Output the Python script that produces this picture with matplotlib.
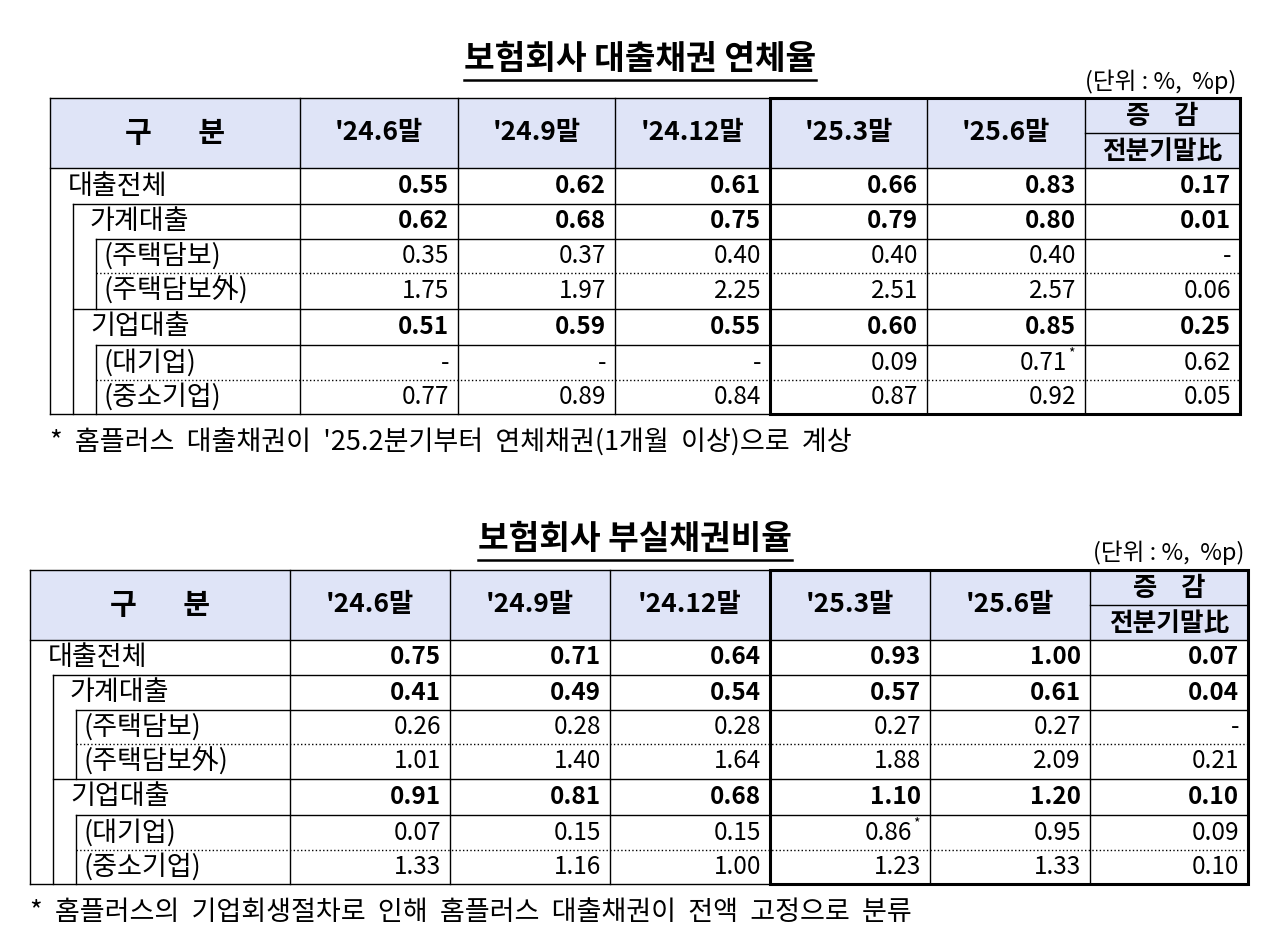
import matplotlib
matplotlib.use("Agg")
import matplotlib.pyplot as plt

plt.rcParams['font.family'] = ['Noto Sans CJK KR', 'DejaVu Sans']

columns = ["'24.6말", "'24.9말", "'24.12말", "'25.3말", "'25.6말"]
row_labels = ["대출전체", "가계대출", "(주택담보)", "(주택담보外)", "기업대출", "(대기업)", "(중소기업)"]
row_level = [0, 1, 2, 2, 1, 2, 2]
bold_rows = [True, True, False, False, True, False, False]

title1 = "보험회사 대출채권 연체율"
t1_values = [
    ["0.55", "0.62", "0.61", "0.66", "0.83", "0.17"],
    ["0.62", "0.68", "0.75", "0.79", "0.80", "0.01"],
    ["0.35", "0.37", "0.40", "0.40", "0.40", "-"],
    ["1.75", "1.97", "2.25", "2.51", "2.57", "0.06"],
    ["0.51", "0.59", "0.55", "0.60", "0.85", "0.25"],
    ["-", "-", "-", "0.09", "0.71*", "0.62"],
    ["0.77", "0.89", "0.84", "0.87", "0.92", "0.05"],
]
note1 = "*  홈플러스  대출채권이  '25.2분기부터  연체채권(1개월  이상)으로  계상"

title2 = "보험회사 부실채권비율"
t2_values = [
    ["0.75", "0.71", "0.64", "0.93", "1.00", "0.07"],
    ["0.41", "0.49", "0.54", "0.57", "0.61", "0.04"],
    ["0.26", "0.28", "0.28", "0.27", "0.27", "-"],
    ["1.01", "1.40", "1.64", "1.88", "2.09", "0.21"],
    ["0.91", "0.81", "0.68", "1.10", "1.20", "0.10"],
    ["0.07", "0.15", "0.15", "0.86*", "0.95", "0.09"],
    ["1.33", "1.16", "1.00", "1.23", "1.33", "0.10"],
]
note2 = "*  홈플러스의  기업회생절차로  인해  홈플러스  대출채권이  전액  고정으로  분류"

fig = plt.figure(figsize=(12.8, 9.42), dpi=100)
ax = fig.add_axes([0, 0, 1, 1])
ax.set_xlim(0, 1280)
ax.set_ylim(942, 0)
ax.axis('off')

HDR = '#dfe4f7'
FS = 17.5
KFS = 19.5
offsets = [18, 40, 53]


def table(title, title_xy, unit_xy, xs, y_hdr, ys, values, note_y, indent, note):
    tx, ty = title_xy
    t = ax.text(tx, ty, title, fontsize=24, fontweight='bold', ha='center', va='center')
    fig.canvas.draw()
    bb = t.get_window_extent()
    ax.plot([bb.x0, bb.x1], [ty + 20, ty + 20], color='black', lw=1.8)
    ax.text(unit_xy[0], unit_xy[1], "(단위 : %,  %p)", fontsize=17, ha='right', va='center')
    x0, x1 = xs[0], xs[-1]
    ax.add_patch(plt.Rectangle((x0, y_hdr), x1 - x0, ys[0] - y_hdr, facecolor=HDR, edgecolor='none'))
    lw = 1.0
    ax.plot([x0, x1], [y_hdr, y_hdr], color='black', lw=lw)
    ax.plot([x0, x1], [ys[0], ys[0]], color='black', lw=lw)
    hm = (y_hdr + ys[0]) / 2
    ax.plot([xs[-2], x1], [hm, hm], color='black', lw=lw)
    ax.text((xs[0] + xs[1]) / 2, hm, "구       분", fontsize=21, fontweight='bold', ha='center', va='center')
    for i, c in enumerate(columns):
        ax.text((xs[i + 1] + xs[i + 2]) / 2, hm, c, fontsize=19, fontweight='bold', ha='center', va='center')
    ax.text((xs[-2] + x1) / 2, (y_hdr + hm) / 2 + 1, "증    감", fontsize=19, fontweight='bold', ha='center', va='center')
    ax.text((xs[-2] + x1) / 2, (hm + ys[0]) / 2 + 1, "전분기말比", fontsize=18.5, fontweight='bold', ha='center', va='center')
    for x in xs:
        ax.plot([x, x], [y_hdr, ys[-1]], color='black', lw=lw)
    ix1, ix2 = x0 + indent, x0 + 2 * indent
    ax.plot([ix1, ix1], [ys[1], ys[-1]], color='black', lw=lw)
    ax.plot([ix2, ix2], [ys[2], ys[4]], color='black', lw=lw)
    ax.plot([ix2, ix2], [ys[5], ys[-1]], color='black', lw=lw)
    for r in range(1, len(ys)):
        y = ys[r]
        if r == len(ys) - 1:
            ax.plot([x0, x1], [y, y], color='black', lw=lw)
            continue
        nxt = row_level[r]
        start = x0 + indent * nxt
        style = ':' if (row_level[r - 1] == 2 and nxt == 2) else '-'
        ax.plot([start, x1], [y, y], color='black', lw=lw, ls=style)
    ax.add_patch(plt.Rectangle((xs[4], y_hdr), x1 - xs[4], ys[-1] - y_hdr, fill=False, edgecolor='black', lw=2.2))
    for r, lab in enumerate(row_labels):
        yc = (ys[r] + ys[r + 1]) / 2
        ax.text(x0 + offsets[row_level[r]], yc, lab, fontsize=KFS, ha='left', va='center')
        for c, v in enumerate(values[r]):
            xr = xs[c + 2] - 9
            w = 'bold' if bold_rows[r] else 'normal'
            if v.endswith('*'):
                ax.text(xr - 9, yc, v[:-1], fontsize=FS, fontweight=w, ha='right', va='center')
                ax.text(xr - 8, yc - 9, '*', fontsize=10, ha='left', va='center')
            else:
                ax.text(xr, yc, v, fontsize=FS, fontweight=w, ha='right', va='center')
    ax.text(x0, note_y, note, fontsize=19.5, ha='left', va='center')


table(title1, (640, 60), (1236, 82), [50, 300, 458, 615, 770, 927, 1085, 1240], 98,
      [168, 204, 239, 273, 309, 345, 380, 414], t1_values, 443, 23, note1)
table(title2, (635, 540), (1244, 553), [30, 290, 450, 610, 770, 930, 1090, 1248], 570,
      [640, 675, 710, 744, 779, 815, 850, 884], t2_values, 912, 23, note2)

fig.savefig("out.png", dpi=100)
